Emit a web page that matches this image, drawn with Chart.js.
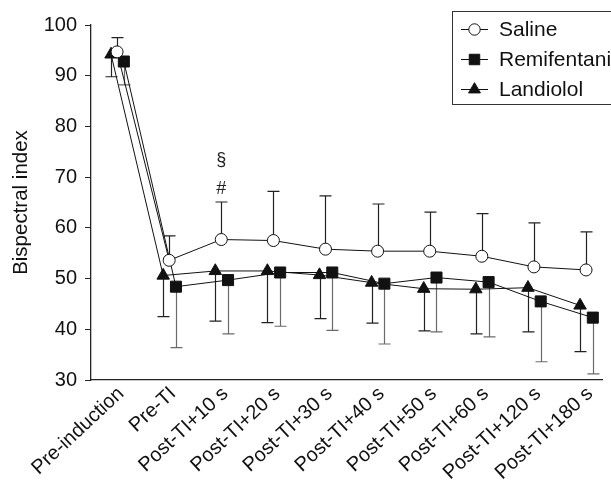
<!DOCTYPE html>
<html>
<head>
<meta charset="utf-8">
<script src="https://cdn.jsdelivr.net/npm/chart.js@4.4.1/dist/chart.umd.min.js"></script>
<style>
  html, body { margin: 0; padding: 0; background: #fff; }
  #wrap { width: 611px; height: 480px; position: relative; }
</style>
</head>
<body>
<div id="wrap"><canvas id="bis" width="611" height="480"></canvas></div>
<script>
// ── Data ───────────────────────────────────────────────────────────

const LABELS = [
  'Pre-induction', 'Pre-TI', 'Post-TI+10 s', 'Post-TI+20 s', 'Post-TI+30 s',
  'Post-TI+40 s', 'Post-TI+50 s', 'Post-TI+60 s', 'Post-TI+120 s', 'Post-TI+180 s',
];

const SALINE      = [94.7, 53.6, 57.7, 57.5, 55.8, 55.4, 55.4, 54.4, 52.3, 51.7];
const SALINE_SD   = [2.8, 4.8, 7.4, 9.7, 10.5, 9.3, 7.7, 8.4, 8.7, 7.5];

const REMI        = [92.8, 48.4, 49.7, 51.2, 51.2, 49.0, 50.2, 49.3, 45.5, 42.3];
const REMI_SD     = [4.6, 12.0, 10.6, 10.6, 11.4, 11.9, 10.7, 10.8, 11.9, 11.1];

const LANDI       = [94.2, 50.6, 51.5, 51.5, 50.7, 49.2, 48.0, 47.9, 48.2, 44.7];
const LANDI_SD    = [4.4, 8.1, 9.9, 10.2, 8.6, 8.0, 8.3, 8.8, 8.7, 9.1];

const Y_TICKS = [30, 40, 50, 60, 70, 80, 90, 100];

// significance marks above Post-TI+10 s
const MARKS = [{ idx: 2, text: '§', value: 73.4 }, { idx: 2, text: '#', value: 67.6 }];

// ── Style ──────────────────────────────────────────────────────────

const FONT = "'Liberation Sans', Arial, Helvetica, sans-serif";
Chart.defaults.font.family = FONT;
Chart.defaults.font.size = 20;
Chart.defaults.color = '#111';

const SHIFT = { saline: 0, remi: 0.13, landi: -0.115 };

const toXY = (arr, dx) => arr.map((v, i) => ({ x: i + dx, y: v }));

const SERIES = [
  { label: 'Saline', data: SALINE, sd: SALINE_SD, dir: 1, dx: SHIFT.saline,
    pointStyle: 'circle', radius: 6, bg: '#fff', barColor: '#222' },
  { label: 'Remifentanil', data: REMI, sd: REMI_SD, dir: -1, dx: SHIFT.remi,
    pointStyle: 'rect', radius: 7.8, bg: '#111', barColor: '#6a6a6a' },
  { label: 'Landiolol', data: LANDI, sd: LANDI_SD, dir: -1, dx: SHIFT.landi,
    pointStyle: 'triangle', radius: 7.2, bg: '#111', barColor: '#222' },
];

// ── Plugins ────────────────────────────────────────────────────────

const errorBars = {
  id: 'errorBars',
  beforeDatasetsDraw(chart) {
    const { ctx, scales: { x, y } } = chart;
    ctx.save();
    ctx.lineWidth = 1.2;
    SERIES.forEach(s => {
      ctx.strokeStyle = s.barColor;
      s.data.forEach((v, i) => {
        const px = Math.round(x.getPixelForValue(i + s.dx)) + 0.5;
        const y0 = y.getPixelForValue(v);
        const y1 = y.getPixelForValue(v + s.dir * s.sd[i]);
        ctx.beginPath();
        ctx.moveTo(px, y0);
        ctx.lineTo(px, y1);
        ctx.moveTo(px - 6, y1);
        ctx.lineTo(px + 6, y1);
        ctx.stroke();
      });
    });
    ctx.restore();
  },
};

const marks = {
  id: 'marks',
  afterDraw(chart) {
    const { ctx, scales: { x, y } } = chart;
    ctx.save();
    ctx.fillStyle = '#222';
    ctx.font = `18px ${FONT}`;
    ctx.textAlign = 'center';
    ctx.textBaseline = 'middle';
    MARKS.forEach(m => ctx.fillText(m.text, x.getPixelForValue(m.idx), y.getPixelForValue(m.value)));
    ctx.restore();
  },
};

const boxLegend = {
  id: 'boxLegend',
  afterDraw(chart) {
    const { ctx } = chart;
    ctx.save();
    ctx.strokeStyle = '#333';
    ctx.lineWidth = 1;
    ctx.strokeRect(452.5, 11.5, 200, 93);
    ctx.font = `21px ${FONT}`;
    ctx.textBaseline = 'middle';
    SERIES.forEach((s, i) => {
      const cy = 29 + i * 30;
      ctx.strokeStyle = '#111';
      ctx.beginPath();
      ctx.moveTo(461, cy + 0.5);
      ctx.lineTo(488, cy + 0.5);
      ctx.stroke();
      ctx.fillStyle = s.bg;
      Chart.helpers.drawPoint(ctx, { pointStyle: s.pointStyle, radius: s.radius * 0.95, borderWidth: 1 }, 474.5, cy + 0.5);
      ctx.fillStyle = '#111';
      ctx.fillText(s.label, 499, cy + 1);
    });
    ctx.restore();
  },
};

// ── Chart ──────────────────────────────────────────────────────────

new Chart(document.getElementById('bis'), {
  type: 'line',
  data: {
    datasets: SERIES.map(s => ({
      label: s.label,
      data: toXY(s.data, s.dx),
      borderColor: '#111',
      borderWidth: 1,
      pointStyle: s.pointStyle,
      pointRadius: s.radius,
      pointBackgroundColor: s.bg,
      pointBorderColor: '#111',
      pointBorderWidth: 1,
      tension: 0,
    })),
  },
  options: {
    responsive: false,
    animation: false,
    devicePixelRatio: 1,
    layout: { padding: { top: 25, right: 0, left: 0, bottom: 0 } },
    plugins: { legend: { display: false }, tooltip: { enabled: false } },
    scales: {
      x: {
        type: 'linear',
        min: -0.5,
        max: 9.31,
        grid: { display: false, drawTicks: false },
        border: { display: true, color: '#222', width: 1.3 },
        afterBuildTicks: axis => { axis.ticks = LABELS.map((_, i) => ({ value: i })); },
        afterFit: axis => { axis.height = 100; axis.paddingLeft = 0; axis.paddingRight = 0; },
        ticks: {
          autoSkip: false,
          maxRotation: 43,
          minRotation: 43,
          padding: 2,
          labelOffset: 4,
          color: '#111',
          font: { size: 20 },
          callback: v => LABELS[v] ?? '',
        },
      },
      y: {
        min: 30,
        max: 100,
        afterBuildTicks: axis => { axis.ticks = Y_TICKS.map(v => ({ value: v })); },
        afterFit: axis => { axis.width = 91; },
        grid: { drawOnChartArea: false, drawTicks: true, tickLength: 6, color: '#222' },
        border: { display: true, color: '#222', width: 1.3 },
        ticks: { padding: 8, color: '#111', font: { size: 20 } },
        title: { display: true, text: 'Bispectral index', color: '#111', font: { size: 20.5 }, padding: { top: 9, bottom: 0 } },
      },
    },
  },
  plugins: [errorBars, marks, boxLegend],
});
</script>
</body>
</html>
